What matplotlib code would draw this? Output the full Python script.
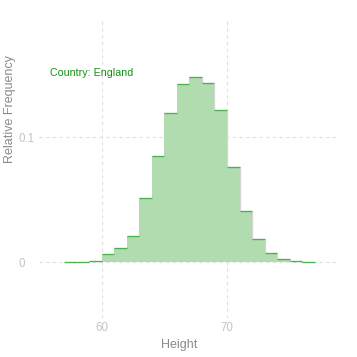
import matplotlib

matplotlib.use("Agg")
import matplotlib.pyplot as plt
import numpy as np

# histogram of heights, unit bins from 57 to 77
bin_edges = list(range(57, 78))
rel_freq = [
    0.0002, 0.0002, 0.0013, 0.0064, 0.0112, 0.0208, 0.0515, 0.0848, 0.1195, 0.1427,
    0.1480, 0.1432, 0.1216, 0.0760, 0.0411, 0.0184, 0.0075, 0.0024, 0.0013, 0.0002,
]
x_ticks = [60, 70]
y_ticks = [0, 0.1]
y_tick_labels = ["0", "0.1"]
label_text = "Country: England"

plt.rcParams["font.family"] = ["Liberation Sans", "DejaVu Sans"]

fig = plt.figure(figsize=(3.57, 3.57), dpi=100)
ax = fig.add_axes([0.109, 0.109, 0.843, 0.838])

edges = np.array(bin_edges, dtype=float)
heights = np.array(rel_freq)

ax.stairs(heights, edges, fill=True, color="#b0dcb0", linewidth=0, zorder=2)
ax.hlines(heights, edges[:-1], edges[1:], color="#4caf50", linewidth=0.95, zorder=3)
# light grey edge where the bars step down
for i in range(len(heights) - 1):
    if heights[i] > heights[i + 1]:
        ax.vlines(edges[i + 1], heights[i + 1], heights[i], color="#d4d4d4", linewidth=0.9, zorder=2.5)

ax.set_xlim(55.0, 79.0)
ax.set_ylim(-0.0446, 0.1946)

ax.set_xticks(x_ticks)
ax.set_yticks(y_ticks)
ax.set_yticklabels(y_tick_labels, ha="left")
ax.tick_params(axis="both", length=0, labelsize=8.3, labelcolor="#c4c4c4")
ax.tick_params(axis="x", pad=2.5)
ax.tick_params(axis="y", pad=14.4)

ax.grid(True, color="#e0e0e0", linestyle=(0, (3, 3)), linewidth=0.8, zorder=0)
ax.set_axisbelow(True)
for spine in ax.spines.values():
    spine.set_visible(False)

ax.text(55.9, 0.151, label_text, color="#109010", fontsize=7.7, va="center", ha="left")

fig.text(179 / 357, 1 - 345 / 357, "Height", color="#8a8a8a", fontsize=9, ha="center", va="center")
fig.text(10 / 357, 1 - 109 / 357, "Relative Frequency", color="#8a8a8a", fontsize=9,
         ha="center", va="center", rotation=90)

fig.savefig("out.png", dpi=100)
